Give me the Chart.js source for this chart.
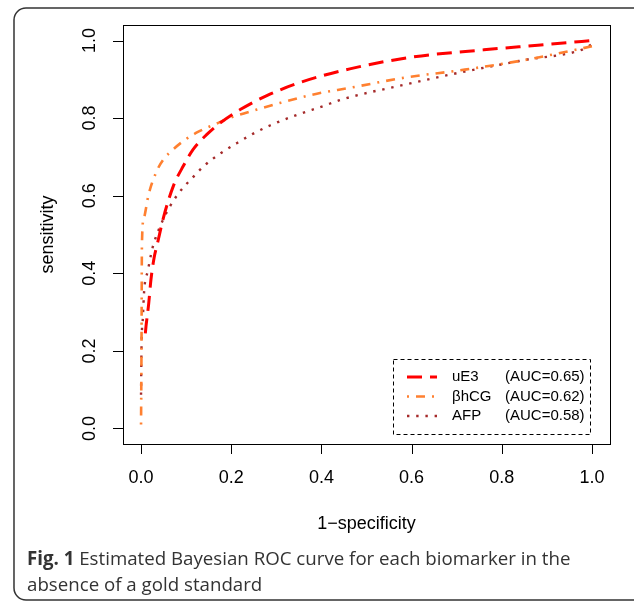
<!DOCTYPE html>
<html>
<head>
<meta charset="utf-8">
<script src="https://cdn.jsdelivr.net/npm/chart.js@4"></script>
<style>
  html, body { margin: 0; padding: 0; background: #fff; }
  #wrap { width: 634px; height: 605px; position: relative; }
</style>
</head>
<body>
<div id="wrap"><canvas id="rocChart" width="634" height="605"></canvas></div>
<script>
// series
const ue3X = [0.0095, 0.011, 0.017, 0.022, 0.029, 0.037, 0.05, 0.072, 0.094, 0.116, 0.146, 0.176, 0.22, 0.279, 0.353, 0.463, 0.6, 0.76, 0.88, 1.0];
const ue3Y = [0.245, 0.263, 0.322, 0.384, 0.44, 0.48, 0.545, 0.626, 0.677, 0.72, 0.758, 0.788, 0.822, 0.858, 0.892, 0.927, 0.957, 0.976, 0.988, 1.0];
const hcgX = [0, 0.001, 0.002, 0.006, 0.017, 0.035, 0.05, 0.072, 0.094, 0.124, 0.168, 0.198, 0.257, 0.308, 0.39, 0.463, 0.583, 0.718, 0.852, 1.0];
const hcgY = [0.01, 0.2, 0.476, 0.54, 0.604, 0.664, 0.694, 0.72, 0.741, 0.763, 0.786, 0.801, 0.822, 0.839, 0.863, 0.878, 0.904, 0.925, 0.95, 0.985];
const afpX = [0, 0.001, 0.004, 0.007, 0.015, 0.023, 0.028, 0.043, 0.061, 0.085, 0.113, 0.142, 0.176, 0.212, 0.249, 0.286, 0.345, 0.404, 0.445, 0.584, 0.718, 0.852, 0.977, 1.0];
const afpY = [0.087, 0.207, 0.284, 0.356, 0.406, 0.453, 0.476, 0.523, 0.566, 0.609, 0.645, 0.679, 0.709, 0.735, 0.76, 0.781, 0.808, 0.831, 0.848, 0.886, 0.92, 0.95, 0.976, 0.99];

const seriesNames = ['uE3', 'βhCG', 'AFP'];
const aucValues = ['0.65', '0.62', '0.58'];
const xTicks = [0.0, 0.2, 0.4, 0.6, 0.8, 1.0];
const yTicks = [0.0, 0.2, 0.4, 0.6, 0.8, 1.0];

const toPoints = (xs, ys) => xs.map((x, i) => ({ x: x, y: ys[i] }));

const rFont = '"Liberation Sans", Arial, sans-serif';

const rStyle = {
    id: 'rStyle',
    afterDraw(chart) {
        const ctx = chart.ctx;
        const a = chart.chartArea;
        const xs = chart.scales.x, ys = chart.scales.y;
        ctx.save();

        // outer frame of the figure
        ctx.strokeStyle = '#333';
        ctx.lineWidth = 1.5;
        ctx.beginPath();
        ctx.roundRect(14, 8, 640, 592, 12);
        ctx.stroke();

        // plot box
        ctx.strokeStyle = '#000';
        ctx.lineWidth = 1;
        ctx.strokeRect(a.left + 0.5, a.top + 0.5, a.right - a.left, a.bottom - a.top);

        // x axis
        ctx.fillStyle = '#000';
        ctx.font = '18px ' + rFont;
        ctx.textAlign = 'center';
        ctx.textBaseline = 'middle';
        ctx.beginPath();
        ctx.moveTo(xs.getPixelForValue(xTicks[0]), a.bottom + 0.5);
        ctx.lineTo(xs.getPixelForValue(xTicks[xTicks.length - 1]), a.bottom + 0.5);
        xTicks.forEach(t => {
            const px = Math.round(xs.getPixelForValue(t)) + 0.5;
            ctx.moveTo(px, a.bottom);
            ctx.lineTo(px, a.bottom + 10);
        });
        ctx.stroke();
        xTicks.forEach(t => ctx.fillText(t.toFixed(1), xs.getPixelForValue(t), a.bottom + 34));

        // y axis
        ctx.beginPath();
        ctx.moveTo(a.left + 0.5, ys.getPixelForValue(yTicks[0]));
        ctx.lineTo(a.left + 0.5, ys.getPixelForValue(yTicks[yTicks.length - 1]));
        yTicks.forEach(t => {
            const py = Math.round(ys.getPixelForValue(t)) + 0.5;
            ctx.moveTo(a.left, py);
            ctx.lineTo(a.left - 10, py);
        });
        ctx.stroke();
        yTicks.forEach(t => {
            ctx.save();
            ctx.translate(a.left - 33, ys.getPixelForValue(t));
            ctx.rotate(-Math.PI / 2);
            ctx.fillText(t.toFixed(1), 0, 0);
            ctx.restore();
        });

        // axis titles
        ctx.fillText('1\u2212specificity', (xs.getPixelForValue(0) + xs.getPixelForValue(1)) / 2, a.bottom + 80);
        ctx.save();
        ctx.translate(48, (a.top + a.bottom) / 2);
        ctx.rotate(-Math.PI / 2);
        ctx.fillText('sensitivity', 0, 0);
        ctx.restore();

        // legend
        const lx = 393, ly = 359, lw = 197, lh = 75;
        ctx.setLineDash([4, 3]);
        ctx.lineWidth = 1;
        ctx.strokeRect(lx + 0.5, ly + 0.5, lw, lh);
        ctx.font = '15px ' + rFont;
        ctx.textAlign = 'left';
        chart.data.datasets.forEach((ds, i) => {
            const rowY = 377 + i * 19.5;
            ctx.strokeStyle = ds.borderColor;
            ctx.lineWidth = ds.borderWidth;
            ctx.setLineDash(ds.borderDash);
            ctx.beginPath();
            ctx.moveTo(407, rowY);
            ctx.lineTo(437, rowY);
            ctx.stroke();
            ctx.fillStyle = '#000';
            ctx.fillText(seriesNames[i], 452, rowY);
            ctx.fillText('(AUC=' + aucValues[i] + ')', 505, rowY);
        });
        ctx.setLineDash([]);

        // caption
        ctx.fillStyle = '#333';
        ctx.textBaseline = 'alphabetic';
        ctx.font = 'bold 18.7px "Open Sans", sans-serif';
        ctx.fillText('Fig. 1', 27, 565);
        const fw = ctx.measureText('Fig. 1 ').width;
        ctx.font = '18.7px "Open Sans", sans-serif';
        ctx.fillText('Estimated Bayesian ROC curve for each biomarker in the', 27 + fw, 565);
        ctx.fillText('absence of a gold standard', 27, 591);

        ctx.restore();
    }
};

const ctx = document.getElementById('rocChart').getContext('2d');
const rocChart = new Chart(ctx, {
    type: 'scatter',
    data: {
        datasets: [{
                label: seriesNames[0],
                data: toPoints(ue3X, ue3Y),
                showLine: true,
                borderColor: '#ff0000',
                borderWidth: 3,
                borderDash: [15, 8],
                pointRadius: 0,
                cubicInterpolationMode: 'monotone'
            },
            {
                label: seriesNames[1],
                data: toPoints(hcgX, hcgY),
                showLine: true,
                borderColor: '#ff8030',
                borderWidth: 2.6,
                borderDash: [2, 7, 9, 7],
                pointRadius: 0,
                cubicInterpolationMode: 'monotone'
            },
            {
                label: seriesNames[2],
                data: toPoints(afpX, afpY),
                showLine: true,
                borderColor: '#a52a2a',
                borderWidth: 2.4,
                borderDash: [2.4, 6.8],
                pointRadius: 0,
                cubicInterpolationMode: 'monotone'
            }
        ]
    },
    options: {
        responsive: false,
        animation: false,
        layout: {
            padding: { left: 123, right: 24, top: 25, bottom: 161 }
        },
        plugins: {
            legend: { display: false },
            tooltip: { enabled: false }
        },
        scales: {
            x: { type: 'linear', display: false, min: -0.04, max: 1.04 },
            y: { type: 'linear', display: false, min: -0.04, max: 1.04 }
        }
    },
    plugins: [rStyle]
});
</script>
</body>
</html>
